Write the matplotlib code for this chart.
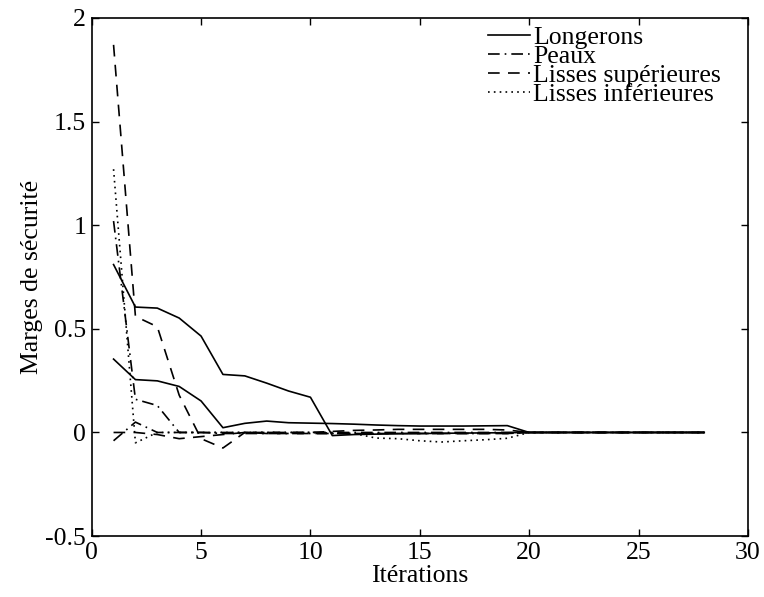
import numpy as np
import matplotlib
matplotlib.use("Agg")
import matplotlib.pyplot as plt
from matplotlib.ticker import FuncFormatter

# iterations 1..28
iterations = np.arange(1, 29)

# two spars
longerons_1 = [0.81, 0.605, 0.60, 0.552, 0.465, 0.28, 0.273, 0.238, 0.20, 0.17,
               -0.015, -0.01, -0.008, -0.006, -0.005, -0.004, -0.003, -0.002, -0.001,
               0, 0, 0, 0, 0, 0, 0, 0, 0]
longerons_2 = [0.354, 0.255, 0.249, 0.222, 0.152, 0.023, 0.044, 0.055, 0.047, 0.045,
               0.043, 0.04, 0.036, 0.033, 0.031, 0.031, 0.031, 0.032, 0.033,
               0, 0, 0, 0, 0, 0, 0, 0, 0]
# skins
peaux_1 = [1.02, 0.16, 0.13, 0.0, 0.0, -0.005, -0.005, -0.005, -0.005, -0.005,
           -0.005, -0.005, -0.005, -0.005, -0.005, -0.005, -0.005, -0.005, -0.005,
           0, 0, 0, 0, 0, 0, 0, 0, 0]
peaux_2 = [-0.04, 0.05, 0.0, 0.0, 0.0, 0.0, 0.0, 0.0, 0.0, 0.0,
           0.0, 0.0, 0.0, 0.0, 0.0, 0.0, 0.0, 0.0, 0.0,
           0, 0, 0, 0, 0, 0, 0, 0, 0]
# upper stringers
lisses_sup_1 = [1.87, 0.56, 0.51, 0.18, -0.03, -0.075, 0.0, -0.005, -0.005, -0.005,
                -0.005, -0.005, -0.005, -0.005, -0.005, -0.005, -0.005, -0.005, -0.005,
                0, 0, 0, 0, 0, 0, 0, 0, 0]
lisses_sup_2 = [0.0, 0.0, -0.01, -0.03, -0.02, -0.01, 0.0, 0.0, 0.0, 0.0,
                0.005, 0.01, 0.012, 0.015, 0.015, 0.015, 0.015, 0.015, 0.012,
                0, 0, 0, 0, 0, 0, 0, 0, 0]
# lower stringers
lisses_inf = [1.27, -0.05, 0.0, 0.0, 0.0, 0.0, 0.0, 0.0, 0.0, 0.0,
              -0.003, -0.005, -0.027, -0.03, -0.04, -0.046, -0.04, -0.035, -0.028,
              0, 0, 0, 0, 0, 0, 0, 0, 0]

plt.rcParams['font.family'] = ['Liberation Serif', 'DejaVu Serif']
plt.rcParams['font.size'] = 18.5
plt.rcParams['axes.unicode_minus'] = False

fig = plt.figure(figsize=(7.64, 5.97), dpi=100)
ax = fig.add_axes([0.120, 0.102, 0.859, 0.868])

lw = 1.2
dash = (0, (7, 5))
dashdot = (0, (7, 3, 1, 3))
dot = (0, (1, 2.5))

ax.plot(iterations, longerons_1, color='black', lw=lw, ls='-', label='Longerons')
ax.plot(iterations, longerons_2, color='black', lw=lw, ls='-')
ax.plot(iterations, peaux_1, color='black', lw=lw, ls=dashdot, label='Peaux')
ax.plot(iterations, peaux_2, color='black', lw=lw, ls=dashdot)
ax.plot(iterations, lisses_sup_1, color='black', lw=lw, ls=dash, label='Lisses supérieures')
ax.plot(iterations, lisses_sup_2, color='black', lw=lw, ls=dash)
ax.plot(iterations, lisses_inf, color='black', lw=lw, ls=dot, label='Lisses inférieures')

ax.set_xlim(0, 30)
ax.set_ylim(-0.5, 2)
ax.set_xticks([0, 5, 10, 15, 20, 25, 30])
ax.set_yticks([-0.5, 0, 0.5, 1, 1.5, 2])
ax.yaxis.set_major_formatter(FuncFormatter(lambda v, p: '%g' % v))
ax.tick_params(direction='in', top=True, right=True, length=5, width=1, pad=4)
for s in ax.spines.values():
    s.set_linewidth(1.2)

ax.set_xlabel('Itérations', labelpad=1)
ax.set_ylabel('Marges de sécurité', labelpad=2)

ax.legend(loc='upper left', bbox_to_anchor=(0.604, 0.985), frameon=False,
          handlelength=1.65, handletextpad=0.1, labelspacing=-0.15, borderpad=0.0,
          borderaxespad=0.0)

fig.savefig('out.png', dpi=100)
